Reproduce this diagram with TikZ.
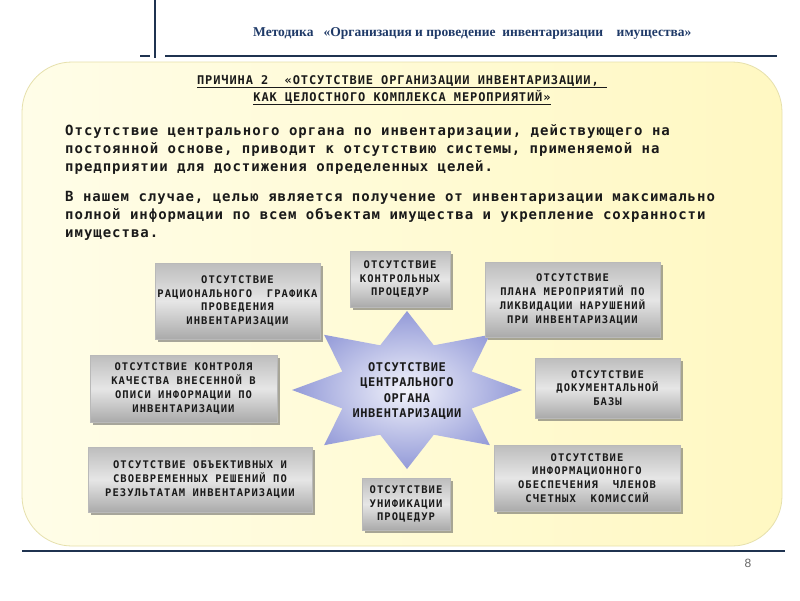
\documentclass[tikz,border=0pt]{standalone}
\usepackage{fontspec}
\usetikzlibrary{shadows}
\newfontfamily\hdrfont{Liberation Serif}
\newfontfamily\bodyfont[LetterSpace=7]{DejaVu Sans Mono}
\newfontfamily\headfont[LetterSpace=7.5]{DejaVu Sans Mono}
\newfontfamily\boxfont[LetterSpace=10]{DejaVu Sans Mono}
\newfontfamily\starfont[LetterSpace=5]{DejaVu Sans Mono}
\newfontfamily\numfont{Liberation Sans}
\definecolor{navy}{HTML}{1F3350}
\definecolor{titleblue}{HTML}{1F3A68}
\definecolor{panelL}{HTML}{FFFDE8}
\definecolor{panelR}{HTML}{FFF8C2}
\definecolor{panelB}{HTML}{E6E0AC}
\definecolor{boxA}{HTML}{BDBDBD}
\definecolor{boxB}{HTML}{E6E6E6}
\definecolor{starIn}{HTML}{F2F3FB}
\definecolor{starOut}{HTML}{939AD8}
\definecolor{ink}{HTML}{1A1A1A}
\tikzset{
  gbox/.style={draw=gray!55, line width=0.6pt, top color=boxA, bottom color=boxA!90!black,
    middle color=boxB, drop shadow={shadow xshift=2.5pt, shadow yshift=-2.5pt, fill=gray!75!black, opacity=0.55},
    align=center, inner sep=0pt, text=ink,
    font=\boxfont\bfseries\fontsize{10.5}{13.8}\selectfont},
  bodyline/.style={anchor=base west, inner sep=0pt, text=ink, font=\bodyfont\bfseries\fontsize{14}{18}\selectfont},
  headline/.style={anchor=base, inner sep=0pt, text=ink, font=\headfont\bfseries\fontsize{12}{14}\selectfont},
  navyline/.style={draw=navy, line width=2pt}
}
\begin{document}
\begin{tikzpicture}[x=1pt,y=-1pt]
\useasboundingbox (0,0) rectangle (800,600);
\fill[white] (0,0) rectangle (800,600);
% header
\draw[navyline] (155,0) -- (155,58);
\draw[navyline] (140,55.5) -- (150,55.5);
\draw[navyline] (165,55.5) -- (777,55.5);
\node[anchor=base west, inner sep=0pt, text=titleblue, font=\hdrfont\bfseries\fontsize{13.5}{16}\selectfont]
  (title) at (253,36.7) {Методика\ \ \ «Организация и проведение\ \ инвентаризации\ \ \ \ имущества»};
% panel
\shade[left color=panelL, right color=panelR, draw=panelB, line width=0.8pt, rounded corners=50pt]
  (22,62) rectangle (782,546);
% bottom line and page number
\draw[navyline, line width=2.5pt] (22,551) -- (785,551);
\node[inner sep=0pt, text=gray!80!black, font=\numfont\fontsize{12}{14}\selectfont] (pnum) at (748,563) {8};
% heading
\node[headline] (h1) at (402,84) {\underline{ПРИЧИНА 2\ \ «ОТСУТСТВИЕ ОРГАНИЗАЦИИ ИНВЕНТАРИЗАЦИИ,\ }};
\node[headline] (h2) at (402,101) {\underline{КАК ЦЕЛОСТНОГО КОМПЛЕКСА МЕРОПРИЯТИЙ»}};
% body
\node[bodyline] (b1) at (65,135) {Отсутствие центрального органа по инвентаризации, действующего на};
\node[bodyline] (b2) at (65,153) {постоянной основе, приводит к отсутствию системы, применяемой на};
\node[bodyline] (b3) at (65,171) {предприятии для достижения определенных целей.};
\node[bodyline] (b4) at (65,201) {В нашем случае, целью является получение от инвентаризации максимально};
\node[bodyline] (b5) at (65,219) {полной информации по всем объектам имущества и укрепление сохранности};
\node[bodyline] (b6) at (65,237) {имущества.};
% star
\shade[inner color=starIn, outer color=starOut]
  (522,390) -- (471.7,371.5) -- (489.9,334.8) -- (433.8,345.3) -- (407,311) -- (380.2,345.3)
  -- (324.1,334.8) -- (342.3,371.5) -- (292,390) -- (342.3,408.5) -- (324.1,445.2)
  -- (380.2,434.7) -- (407,469) -- (433.8,434.7) -- (489.9,445.2) -- (471.7,408.5) -- cycle;
\node[align=center, inner sep=0pt, text=ink, font=\starfont\bfseries\fontsize{12}{15.5}\selectfont]
  (center) at (407,391) {ОТСУТСТВИЕ\\ЦЕНТРАЛЬНОГО\\ОРГАНА\\ИНВЕНТАРИЗАЦИИ};
% boxes
\node[gbox, minimum width=165pt, minimum height=76pt] (n1) at (237.5,301)
  {ОТСУТСТВИЕ\\РАЦИОНАЛЬНОГО\ \ ГРАФИКА\\ПРОВЕДЕНИЯ\\ИНВЕНТАРИЗАЦИИ};
\node[gbox, minimum width=100pt, minimum height=56pt] (n2) at (400,279)
  {ОТСУТСТВИЕ\\КОНТРОЛЬНЫХ\\ПРОЦЕДУР};
\node[gbox, minimum width=175pt, minimum height=75pt] (n3) at (572.5,299.5)
  {ОТСУТСТВИЕ\\ПЛАНА МЕРОПРИЯТИЙ ПО\\ЛИКВИДАЦИИ НАРУШЕНИЙ\\ПРИ ИНВЕНТАРИЗАЦИИ};
\node[gbox, minimum width=187pt, minimum height=67pt] (n4) at (183.5,388.5)
  {ОТСУТСТВИЕ КОНТРОЛЯ\\КАЧЕСТВА ВНЕСЕННОЙ В\\ОПИСИ ИНФОРМАЦИИ ПО\\ИНВЕНТАРИЗАЦИИ};
\node[gbox, minimum width=145pt, minimum height=60pt] (n5) at (607.5,388)
  {ОТСУТСТВИЕ\\ДОКУМЕНТАЛЬНОЙ\\БАЗЫ};
\node[gbox, minimum width=224pt, minimum height=65pt] (n6) at (200,479.5)
  {ОТСУТСТВИЕ ОБЪЕКТИВНЫХ И\\СВОЕВРЕМЕННЫХ РЕШЕНИЙ ПО\\РЕЗУЛЬТАТАМ ИНВЕНТАРИЗАЦИИ};
\node[gbox, minimum width=88pt, minimum height=52pt] (n7) at (406,504)
  {ОТСУТСТВИЕ\\УНИФИКАЦИИ\\ПРОЦЕДУР};
\node[gbox, minimum width=186pt, minimum height=66pt] (n8) at (587,478)
  {ОТСУТСТВИЕ\\ИНФОРМАЦИОННОГО\\ОБЕСПЕЧЕНИЯ\ \ ЧЛЕНОВ\\СЧЕТНЫХ\ \ КОМИССИЙ};
\end{tikzpicture}
\end{document}
